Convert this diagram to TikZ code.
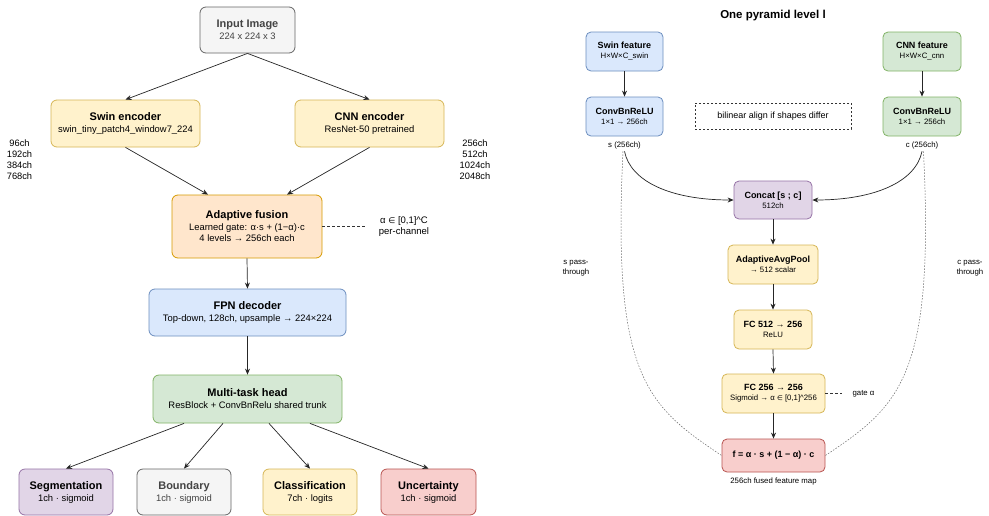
\documentclass[tikz,border=0pt]{standalone}
\usepackage{fontspec}
\setmainfont{Liberation Sans}
\newfontfamily\dv[Scale=0.85]{DejaVu Sans}
\usetikzlibrary{arrows.meta,calc}
\definecolor{gF}{HTML}{F5F5F5}\definecolor{gS}{HTML}{666666}\definecolor{gT}{HTML}{444444}
\definecolor{yF}{HTML}{FFF2CC}\definecolor{yS}{HTML}{D6B656}
\definecolor{oF}{HTML}{FFE6CC}\definecolor{oS}{HTML}{D79B00}
\definecolor{bF}{HTML}{DAE8FC}\definecolor{bS}{HTML}{6C8EBF}
\definecolor{nF}{HTML}{D5E8D4}\definecolor{nS}{HTML}{82B366}
\definecolor{pF}{HTML}{E1D5E7}\definecolor{pS}{HTML}{9673A6}
\definecolor{rF}{HTML}{F8CECC}\definecolor{rS}{HTML}{B85450}
\newcommand{\elm}{{\dv ∈}}
\newcommand{\tb}[1]{{\fontsize{11}{12}\selectfont\bfseries #1}}
\newcommand{\rb}[1]{{\fontsize{9}{10}\selectfont\bfseries #1}}
\begin{document}
\begin{tikzpicture}[x=1pt,y=-1pt,
  box/.style={draw, rounded corners=6pt, line width=0.8pt, inner sep=0pt, align=center,
    font=\fontsize{9.4}{12}\selectfont},
  rbox/.style={draw, rounded corners=5pt, line width=0.8pt, inner sep=0pt, align=center,
    font=\fontsize{7.8}{10}\selectfont},
  gry/.style={fill=gF, draw=gS, text=gT},
  yel/.style={fill=yF, draw=yS},
  ora/.style={fill=oF, draw=oS},
  blu/.style={fill=bF, draw=bS},
  grn/.style={fill=nF, draw=nS},
  pur/.style={fill=pF, draw=pS},
  red/.style={fill=rF, draw=rS},
  lab/.style={inner sep=0pt, align=center, font=\fontsize{9.3}{11}\selectfont},
  rlab/.style={inner sep=0pt, align=center, font=\fontsize{7.8}{10}\selectfont},
  arr/.style={-{Stealth[length=6pt,width=5pt]}, line width=0.7pt, draw=black!85},
  thin dash/.style={line width=0.6pt, draw=black!80, dash pattern=on 3pt off 2pt},
  pass/.style={line width=0.5pt, draw=black!60, dash pattern=on 1.5pt off 1.5pt},
]
\fill[white] (0,0) rectangle (989,515);
\useasboundingbox (0,0) rectangle (989,515);

% ---------- left panel ----------
\node[box,gry,minimum width=95pt,minimum height=46pt] (inp) at (247.5,30)
  {\tb{Input Image}\\224 x 224 x 3};
\node[box,yel,minimum width=149pt,minimum height=47pt] (swin) at (125.5,123.5)
  {\tb{Swin encoder}\\swin\_tiny\_patch4\_window7\_224};
\node[box,yel,minimum width=149pt,minimum height=47pt] (cnn) at (369.5,123.5)
  {\tb{CNN encoder}\\ResNet-50 pretrained};
\node[lab] (swch) at (19.5,159.5) {96ch\\192ch\\384ch\\768ch};
\node[lab] (cnch) at (475,159.5) {256ch\\512ch\\1024ch\\2048ch};
\node[box,ora,minimum width=150pt,minimum height=63pt,font=\fontsize{9.4}{11.5}\selectfont] (fus) at (247,226.5)
  {\tb{Adaptive fusion}\\Learned gate: α·s + (1−α)·c\\4 levels → 256ch each};
\node[lab,font=\fontsize{9.5}{11}\selectfont] (alab) at (404,226.5) {α \elm{} [0,1]\textasciicircum C\\per-channel};
\node[box,blu,minimum width=197pt,minimum height=47pt] (fpn) at (247.5,312.5)
  {\tb{FPN decoder}\\Top-down, 128ch, upsample → 224×224};
\node[box,grn,minimum width=189pt,minimum height=48pt] (mth) at (247.5,399)
  {\tb{Multi-task head}\\ResBlock + ConvBnRelu shared trunk};
\node[box,pur,minimum width=94pt,minimum height=46pt] (seg) at (66,492)
  {\tb{Segmentation}\\1ch · sigmoid};
\node[box,gry,minimum width=94pt,minimum height=46pt] (bnd) at (184,492)
  {\tb{Boundary}\\1ch · sigmoid};
\node[box,yel,minimum width=94pt,minimum height=46pt] (cls) at (310,492)
  {\tb{Classification}\\7ch · logits};
\node[box,red,minimum width=95pt,minimum height=46pt] (unc) at (428.5,492)
  {\tb{Uncertainty}\\1ch · sigmoid};

\draw[arr] (inp.south) -- (swin.north);
\draw[arr] (inp.south) -- (cnn.north);
\draw[arr] (swin.south) -- ([xshift=-39pt]fus.north);
\draw[arr] (cnn.south) -- ([xshift=40pt]fus.north);
\draw[thin dash, shorten >=12pt] (fus.east) -- (alab.west);
\draw[arr] (fus.south) -- (fpn.north);
\draw[arr] (fpn.south) -- (mth.north);
\draw[arr] ([xshift=-63.5pt]mth.south) -- (seg.north);
\draw[arr] ([xshift=-24.5pt]mth.south) -- (bnd.north);
\draw[arr] ([xshift=21.5pt]mth.south) -- (cls.north);
\draw[arr] ([xshift=62.5pt]mth.south) -- (unc.north);

% ---------- right panel ----------
\node[inner sep=0pt,font=\fontsize{11.5}{13}\selectfont\bfseries] (ttl) at (773,16) {One pyramid level l};
\node[rbox,blu,minimum width=77pt,minimum height=39pt] (swf) at (624.5,51.5)
  {\rb{Swin feature}\\H×W×C\_swin};
\node[rbox,blu,minimum width=77pt,minimum height=39pt] (swc) at (624.5,116.5)
  {\rb{ConvBnReLU}\\1×1 → 256ch};
\node[rbox,grn,minimum width=78pt,minimum height=39pt] (cnf) at (922,51.5)
  {\rb{CNN feature}\\H×W×C\_cnn};
\node[rbox,grn,minimum width=78pt,minimum height=39pt] (cnc) at (922,116.5)
  {\rb{ConvBnReLU}\\1×1 → 256ch};
\node[draw=black!80, line width=0.6pt, dash pattern=on 2pt off 2pt, fill=white,
  minimum width=156pt, minimum height=26pt, inner sep=0pt, font=\fontsize{9}{10}\selectfont]
  (bil) at (773,116) {bilinear align if shapes differ};
\node[rlab, inner sep=2.5pt] (slab) at (624.5,145) {s (256ch)};
\node[rlab, inner sep=2.5pt] (clab) at (922,145) {c (256ch)};
\node[rbox,pur,minimum width=78pt,minimum height=38pt] (cat) at (773,200)
  {\rb{Concat [s ; c]}\\512ch};
\node[rbox,yel,minimum width=90pt,minimum height=39pt] (pool) at (773,264.5)
  {\rb{AdaptiveAvgPool}\\→ 512 scalar};
\node[rbox,yel,minimum width=78pt,minimum height=39pt] (fc1) at (773,329.5)
  {\rb{FC 512 → 256}\\ReLU};
\node[rbox,yel,minimum width=103pt,minimum height=39pt] (fc2) at (773.5,393.5)
  {\rb{FC 256 → 256}\\Sigmoid → α \elm{} [0,1]\textasciicircum 256};
\node[rbox,red,minimum width=103pt,minimum height=33pt] (fout) at (773.5,455.5)
  {\rb{f = α · s + (1 − α) · c}};
\node[rlab] (flab) at (773.5,481) {256ch fused feature map};
\node[rlab] (glab) at (863.5,393.5) {gate α};
\node[rlab] (spl) at (576,268) {s pass-\\through};
\node[rlab] (cpl) at (970,268) {c pass-\\through};

\draw[arr] (swf.south) -- (swc.north);
\draw[arr] (cnf.south) -- (cnc.north);
\draw[arr] (slab.south) .. controls +(6,30) and +(-63,0) .. (cat.west);
\draw[arr] (clab.south) .. controls +(-6,30) and +(63,0) .. (cat.east);
\draw[pass] ([xshift=-1.5pt]slab.south) .. controls +(-11,225) and +(-75,-50) .. (fout.west);
\draw[pass] ([xshift=1.5pt]clab.south) .. controls +(11,225) and +(75,-50) .. (fout.east);
\draw[arr] (cat.south) -- (pool.north);
\draw[arr] (pool.south) -- (fc1.north);
\draw[arr] (fc1.south) -- (fc2.north);
\draw[arr] (fc2.south) -- (fout.north);
\draw[thin dash, shorten >=10pt] (fc2.east) -- (glab.west);
\end{tikzpicture}
\end{document}
